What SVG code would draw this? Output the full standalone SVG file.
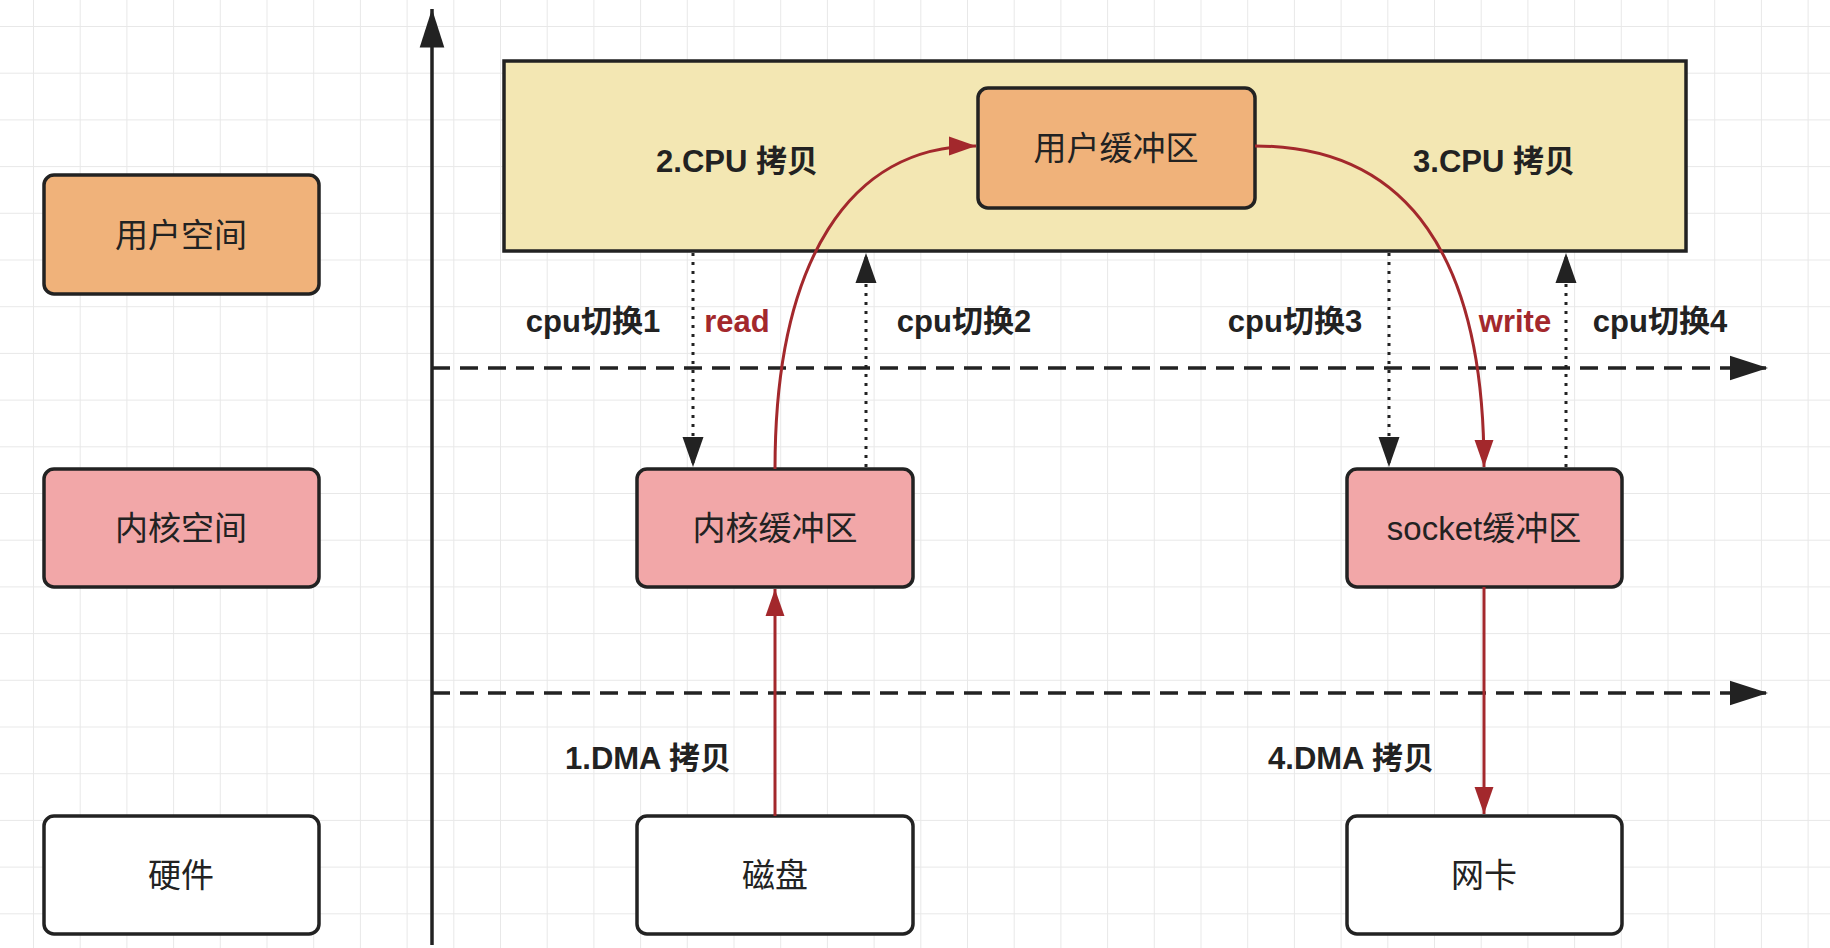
<svg xmlns="http://www.w3.org/2000/svg" width="1830" height="948" viewBox="0 0 1830 948">
<defs>
<pattern id="grid" x="33" y="26" width="46.7" height="46.7" patternUnits="userSpaceOnUse">
<path d="M0 0H46.7M0 0V46.7" fill="none" stroke="#e8e8e8" stroke-width="2"/>
</pattern>
<marker id="abk" viewBox="0 0 10 10" refX="10" refY="5" markerWidth="11" markerHeight="11" orient="auto">
<path d="M0 1.8L10 5L0 8.2z" fill="#222"/>
</marker>
<marker id="ak" viewBox="0 0 10 10" refX="10" refY="5" markerWidth="10" markerHeight="10" orient="auto">
<path d="M0 1.5L10 5L0 8.5z" fill="#222"/>
</marker>
<marker id="ar" viewBox="0 0 10 10" refX="10" refY="5" markerWidth="9" markerHeight="9" orient="auto">
<path d="M0 1.5L10 5L0 8.5z" fill="#a3282c"/>
</marker>
</defs>
<style>
text{font-family:"Liberation Sans","Noto Sans CJK SC",sans-serif;font-size:33px;fill:#222;text-anchor:middle;dominant-baseline:central}
.l{font-weight:bold;font-size:31px}
.n{stroke:#222;stroke-width:3.5}
.o{fill:#f0b27a}.p{fill:#f2a7a8}.w{fill:#fff}.y{fill:#f3e7b3}
.red{fill:none;stroke:#a3282c;stroke-width:3}
.dot{fill:none;stroke:#222;stroke-width:3;stroke-dasharray:3 6}
.dash{fill:none;stroke:#222;stroke-width:3.5;stroke-dasharray:18 10}
.r{fill:#a3282c}
</style>
<rect width="1830" height="948" fill="#fff"/>
<rect width="1830" height="948" fill="url(#grid)"/>
<g id="user-region"><rect class="n y" x="504" y="61" width="1182" height="190"/></g>
<g id="user-space"><rect class="n o" x="44" y="175" width="275" height="119" rx="10"/><text x="181" y="235">用户空间</text></g>
<g id="kernel-space"><rect class="n p" x="44" y="469" width="275" height="118" rx="10"/><text x="181" y="528">内核空间</text></g>
<g id="hardware"><rect class="n w" x="44" y="816" width="275" height="118" rx="10"/><text x="181" y="875">硬件</text></g>
<g id="user-buffer"><rect class="n o" x="978" y="88" width="277" height="120" rx="10"/><text x="1116" y="148">用户缓冲区</text></g>
<g id="kernel-buffer"><rect class="n p" x="637" y="469" width="276" height="118" rx="10"/><text x="775" y="528">内核缓冲区</text></g>
<g id="socket-buffer"><rect class="n p" x="1347" y="469" width="275" height="118" rx="10"/><text x="1484" y="528">socket缓冲区</text></g>
<g id="disk"><rect class="n w" x="637" y="816" width="276" height="118" rx="10"/><text x="775" y="875">磁盘</text></g>
<g id="nic"><rect class="n w" x="1347" y="816" width="275" height="118" rx="10"/><text x="1484" y="875">网卡</text></g>
<g id="connectors">
<line x1="432" y1="945" x2="432" y2="9" stroke="#222" stroke-width="3.5" marker-end="url(#abk)"/>
<line class="dash" x1="432" y1="368" x2="1768" y2="368" marker-end="url(#abk)"/>
<line class="dash" x1="432" y1="693" x2="1768" y2="693" marker-end="url(#abk)"/>
<line class="dot" x1="693" y1="253" x2="693" y2="467" marker-end="url(#ak)"/>
<line class="dot" x1="866" y1="467" x2="866" y2="253" marker-end="url(#ak)"/>
<line class="dot" x1="1389" y1="253" x2="1389" y2="467" marker-end="url(#ak)"/>
<line class="dot" x1="1566" y1="467" x2="1566" y2="253" marker-end="url(#ak)"/>
<path class="red" d="M775 469C775 260 850 146 976 146" marker-end="url(#ar)"/>
<path class="red" d="M1255 146C1410 146 1484 260 1484 467" marker-end="url(#ar)"/>
<line class="red" x1="775" y1="816" x2="775" y2="589" marker-end="url(#ar)"/>
<line class="red" x1="1484" y1="587" x2="1484" y2="814" marker-end="url(#ar)"/>
</g>
<g id="labels">
<text class="l" x="737" y="161">2.CPU 拷贝</text>
<text class="l" x="1494" y="161">3.CPU 拷贝</text>
<text class="l" x="593" y="321">cpu切换1</text>
<text class="l r" x="737" y="321">read</text>
<text class="l" x="964" y="321">cpu切换2</text>
<text class="l" x="1295" y="321">cpu切换3</text>
<text class="l r" x="1515" y="321">write</text>
<text class="l" x="1660" y="321">cpu切换4</text>
<text class="l" x="648" y="758">1.DMA 拷贝</text>
<text class="l" x="1351" y="758">4.DMA 拷贝</text>
</g>
</svg>
